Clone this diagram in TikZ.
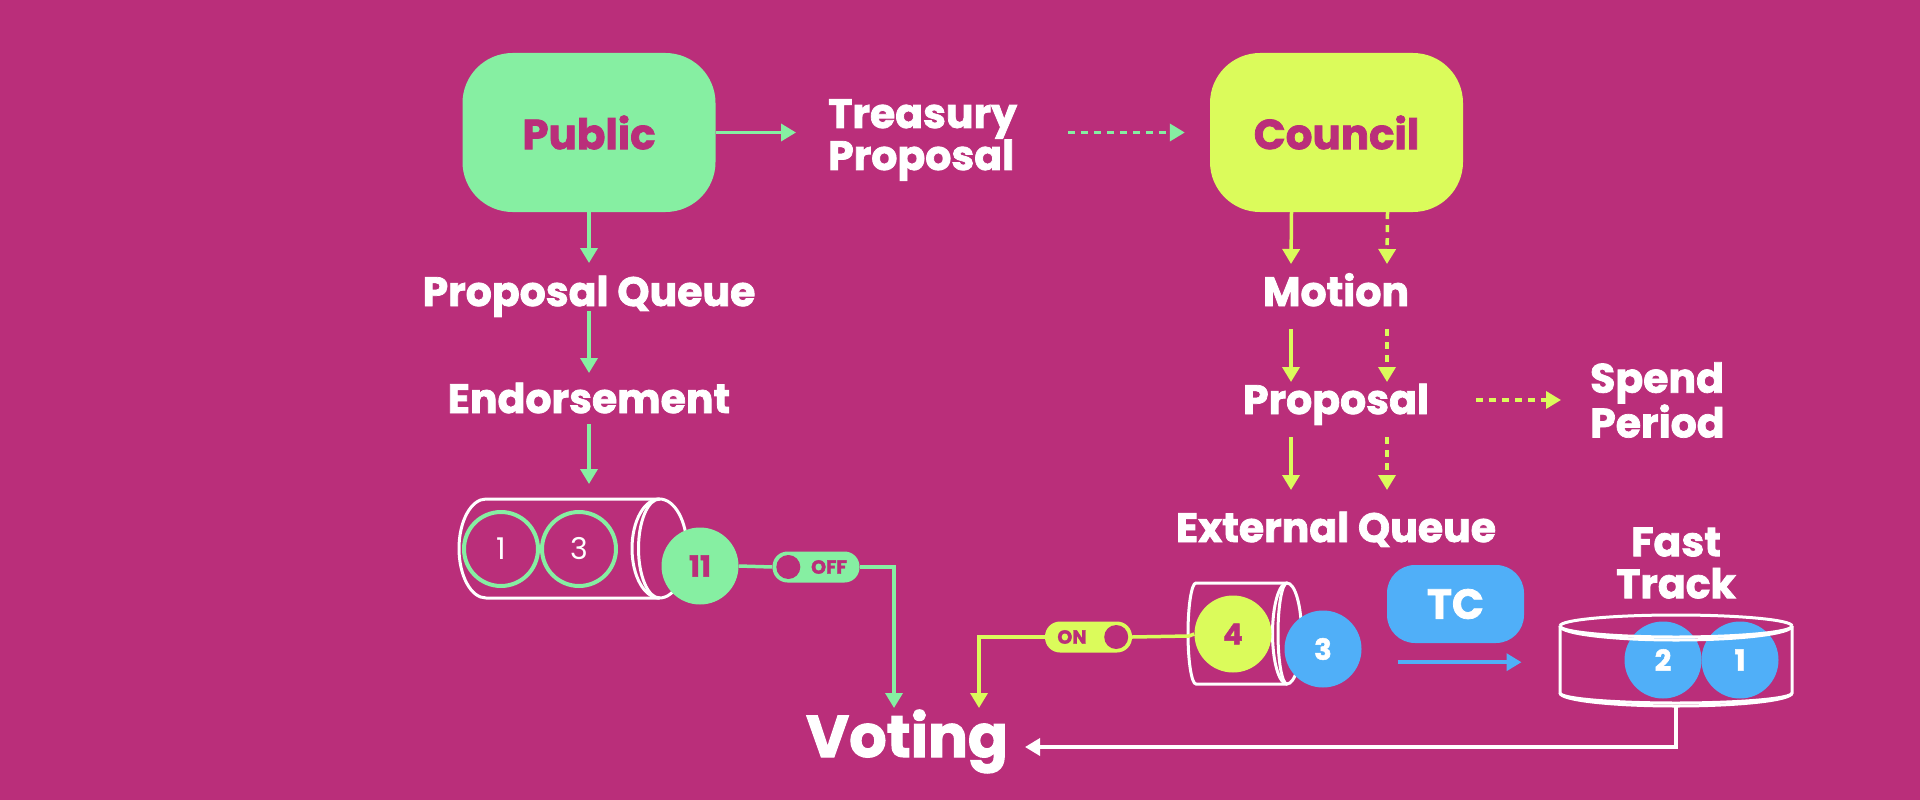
\documentclass[tikz,border=0pt]{standalone}
\usepackage{fontspec}
\setmainfont{Poppins}[BoldFeatures={FakeBold=1.8}]
\usetikzlibrary{arrows.meta,calc}
\definecolor{bg}{HTML}{BA2E7A}
\definecolor{mint}{HTML}{86EFA2}
\definecolor{lime}{HTML}{DBFB5B}
\definecolor{sky}{HTML}{50AFF8}
\begin{document}
\begin{tikzpicture}[x=1pt,y=-1pt,
  lbl/.style={text=white,font=\fontsize{41}{42}\selectfont\bfseries,inner sep=0pt},
  bigbox/.style={minimum width=253pt,minimum height=159pt,rounded corners=50pt,inner sep=0pt,font=\fontsize{42}{42}\selectfont\bfseries,text=bg},
  arr/.style={line width=3.5pt,-{Triangle[length=15pt,width=17pt]}},
  plain/.style={line width=3.5pt},
  dsh/.style={dash pattern=on 7pt off 6pt},
  ring/.style={circle,minimum size=74pt,inner sep=0pt,draw=mint,line width=4pt,text=white,font=\fontsize{30}{30}\selectfont},
  ball/.style={circle,minimum size=77pt,inner sep=0pt,font=\fontsize{29}{29}\selectfont\bfseries},
  toggle/.style={rounded corners=15pt,minimum width=87pt,minimum height=31pt,inner sep=0pt},
  knob/.style={circle,fill=bg,minimum size=24pt,inner sep=0pt},
  tgltext/.style={text=bg,font=\fontsize{19}{19}\selectfont\bfseries,inner sep=0pt},
  tube/.style={draw=white,line width=3pt}
]
\fill[bg] (0,0) rectangle (1920,800);
\useasboundingbox (0,0) rectangle (1920,800);

% ---- top boxes and labels
\node[bigbox,fill=mint] (public) at (589,132.5) {Public};
\node[bigbox,fill=lime] (council) at (1336.5,132.5) {Council};
\node[lbl,align=left,anchor=west] (treasury) at (828,140) {Treasury\\Proposal};

\node[lbl,anchor=base] (pq) at (589,306) {Proposal Queue};
\node[lbl,anchor=base] (endorse) at (589,413) {Endorsement};
\node[lbl,anchor=base] (motion) at (1336,306) {Motion};
\node[lbl,anchor=base] (proposal) at (1336,414) {Proposal};
\node[lbl,align=left,anchor=west] (spend) at (1590,400) {Spend\\Period};
\node[lbl,anchor=base] (extq) at (1336,542) {External Queue};
\node[lbl,align=center] (fast) at (1676,563) {Fast\\Track};
\node[text=white,font=\fontsize{59}{59}\selectfont\bfseries,inner sep=0pt,anchor=base] (voting) at (907,757) {Voting};

% ---- top connectors
\draw[arr,mint,shorten >=32pt] (public.east) -- (public.east -| treasury.west);
\draw[arr,mint,dsh] ($(council.west)+(-142,0)$) -- ($(council.west)+(-25,0)$);

% left column
\coordinate (q1top) at (589,499);
\draw[arr,mint] (public.south) -- ($(pq.base)+(0,-43)$);
\draw[arr,mint] ($(pq.base)+(0,5)$) -- ($(endorse.base)+(0,-40)$);
\draw[arr,mint] ($(endorse.base)+(0,11)$) -- ($(q1top)+(0,-15)$);

% right column
\draw[arr,lime] ($(council.south)+(-45,0)$) -- ($(motion.base)+(-45,-42)$);
\draw[arr,lime,dsh] ($(council.south)+(51,0)$) -- ($(motion.base)+(51,-42)$);
\draw[arr,lime] ($(motion.base)+(-45,23)$) -- ($(proposal.base)+(-45,-32)$);
\draw[arr,lime,dsh] ($(motion.base)+(51,23)$) -- ($(proposal.base)+(51,-32)$);
\draw[arr,lime] ($(proposal.base)+(-45,23)$) -- ($(extq.base)+(-45,-52)$);
\draw[arr,lime,dsh] ($(proposal.base)+(51,23)$) -- ($(extq.base)+(51,-52)$);
\coordinate (spA) at ($(proposal.base)+(140,-14)$);
\draw[arr,lime,dsh,shorten >=29pt] (spA) -- (spA -| spend.west);

% ---- left queue (cylinder)
\draw[tube] (659.5,499) -- (486,499) arc[start angle=90,end angle=270,x radius=27pt,y radius=49.5pt] -- (659.5,598);
\draw[tube] (659.5,548.5) ellipse[x radius=27.5pt,y radius=49.5pt];
\draw[tube] (659.5,499) arc[start angle=90,end angle=270,x radius=21pt,y radius=49.5pt];
\node[ring] (c1) at (501,549) {1};
\node[ring] (c3) at (579,549) {3};
\node[ball,fill=mint,text=bg] (c11) at (700,566) {11};

\node[toggle,fill=mint] (off) at (816,567) {};
\node[knob] (offknob) at ($(off.west)+(16,0)$) {};
\node[tgltext] (offtxt) at (829,567) {OFF};
\draw[plain,mint] (c11.east) -- (off.west);
\draw[arr,mint] (off.east) -| ($(voting.base)+(-13,-49)$);

% ---- external queue (small cylinder)
\draw[tube] (1287,583) -- (1196,583) arc[start angle=90,end angle=270,x radius=8pt,y radius=50.5pt] -- (1287,684);
\draw[tube] (1287,633.5) ellipse[x radius=14.5pt,y radius=50.5pt];
\draw[tube] (1287,583) arc[start angle=90,end angle=270,x radius=9pt,y radius=50.5pt];
\coordinate (q2left) at (1189,636);
\node[ball,fill=lime,text=bg] (c4) at (1233,634) {4};
\node[ball,fill=sky,text=white] (c3b) at (1323,649) {3};

\node[toggle,fill=lime] (on) at (1088.5,637) {};
\node[knob] (onknob) at ($(on.east)+(-16,0)$) {};
\node[tgltext] (ontxt) at (1072,637) {ON};
\draw[plain,lime] (q2left) -- (c4.west);
\draw[plain,lime] (q2left) -- (on.east);
\draw[arr,lime] (on.west) -| ($(voting.base)+(72,-49)$);

% ---- TC
\node[rounded corners=28pt,fill=sky,minimum width=137pt,minimum height=78pt,inner sep=0pt,text=white,font=\fontsize{42}{42}\selectfont\bfseries] (tc) at (1455.5,604) {TC};
\draw[arr,sky] ($(tc.south)+(-58,19)$) -- ($(tc.south)+(66,19)$);

% ---- fast track (cylinder)
\draw[tube] (1792,626) arc[start angle=0,end angle=180,x radius=116pt,y radius=11pt];
\draw[tube] (1560,626) -- (1560,693) arc[start angle=180,end angle=360,x radius=116pt,y radius=10pt] -- (1792,626);
\draw[tube] (1560,693) arc[start angle=180,end angle=360,x radius=116pt,y radius=13pt];
\node[ball,fill=sky,text=white] (f2) at (1663,660) {2};
\node[ball,fill=sky,text=white] (f1) at (1740,660) {1};
\draw[tube] (1560,626) arc[start angle=180,end angle=360,x radius=116pt,y radius=11pt];
\draw[tube] (1560,626) arc[start angle=180,end angle=360,x radius=116pt,y radius=14pt];
\coordinate (ftbot) at (1676,706);
\coordinate (vt) at ($(voting.base)+(118,-10)$);
\draw[arr,white] (ftbot) |- (vt);
\end{tikzpicture}
\end{document}
